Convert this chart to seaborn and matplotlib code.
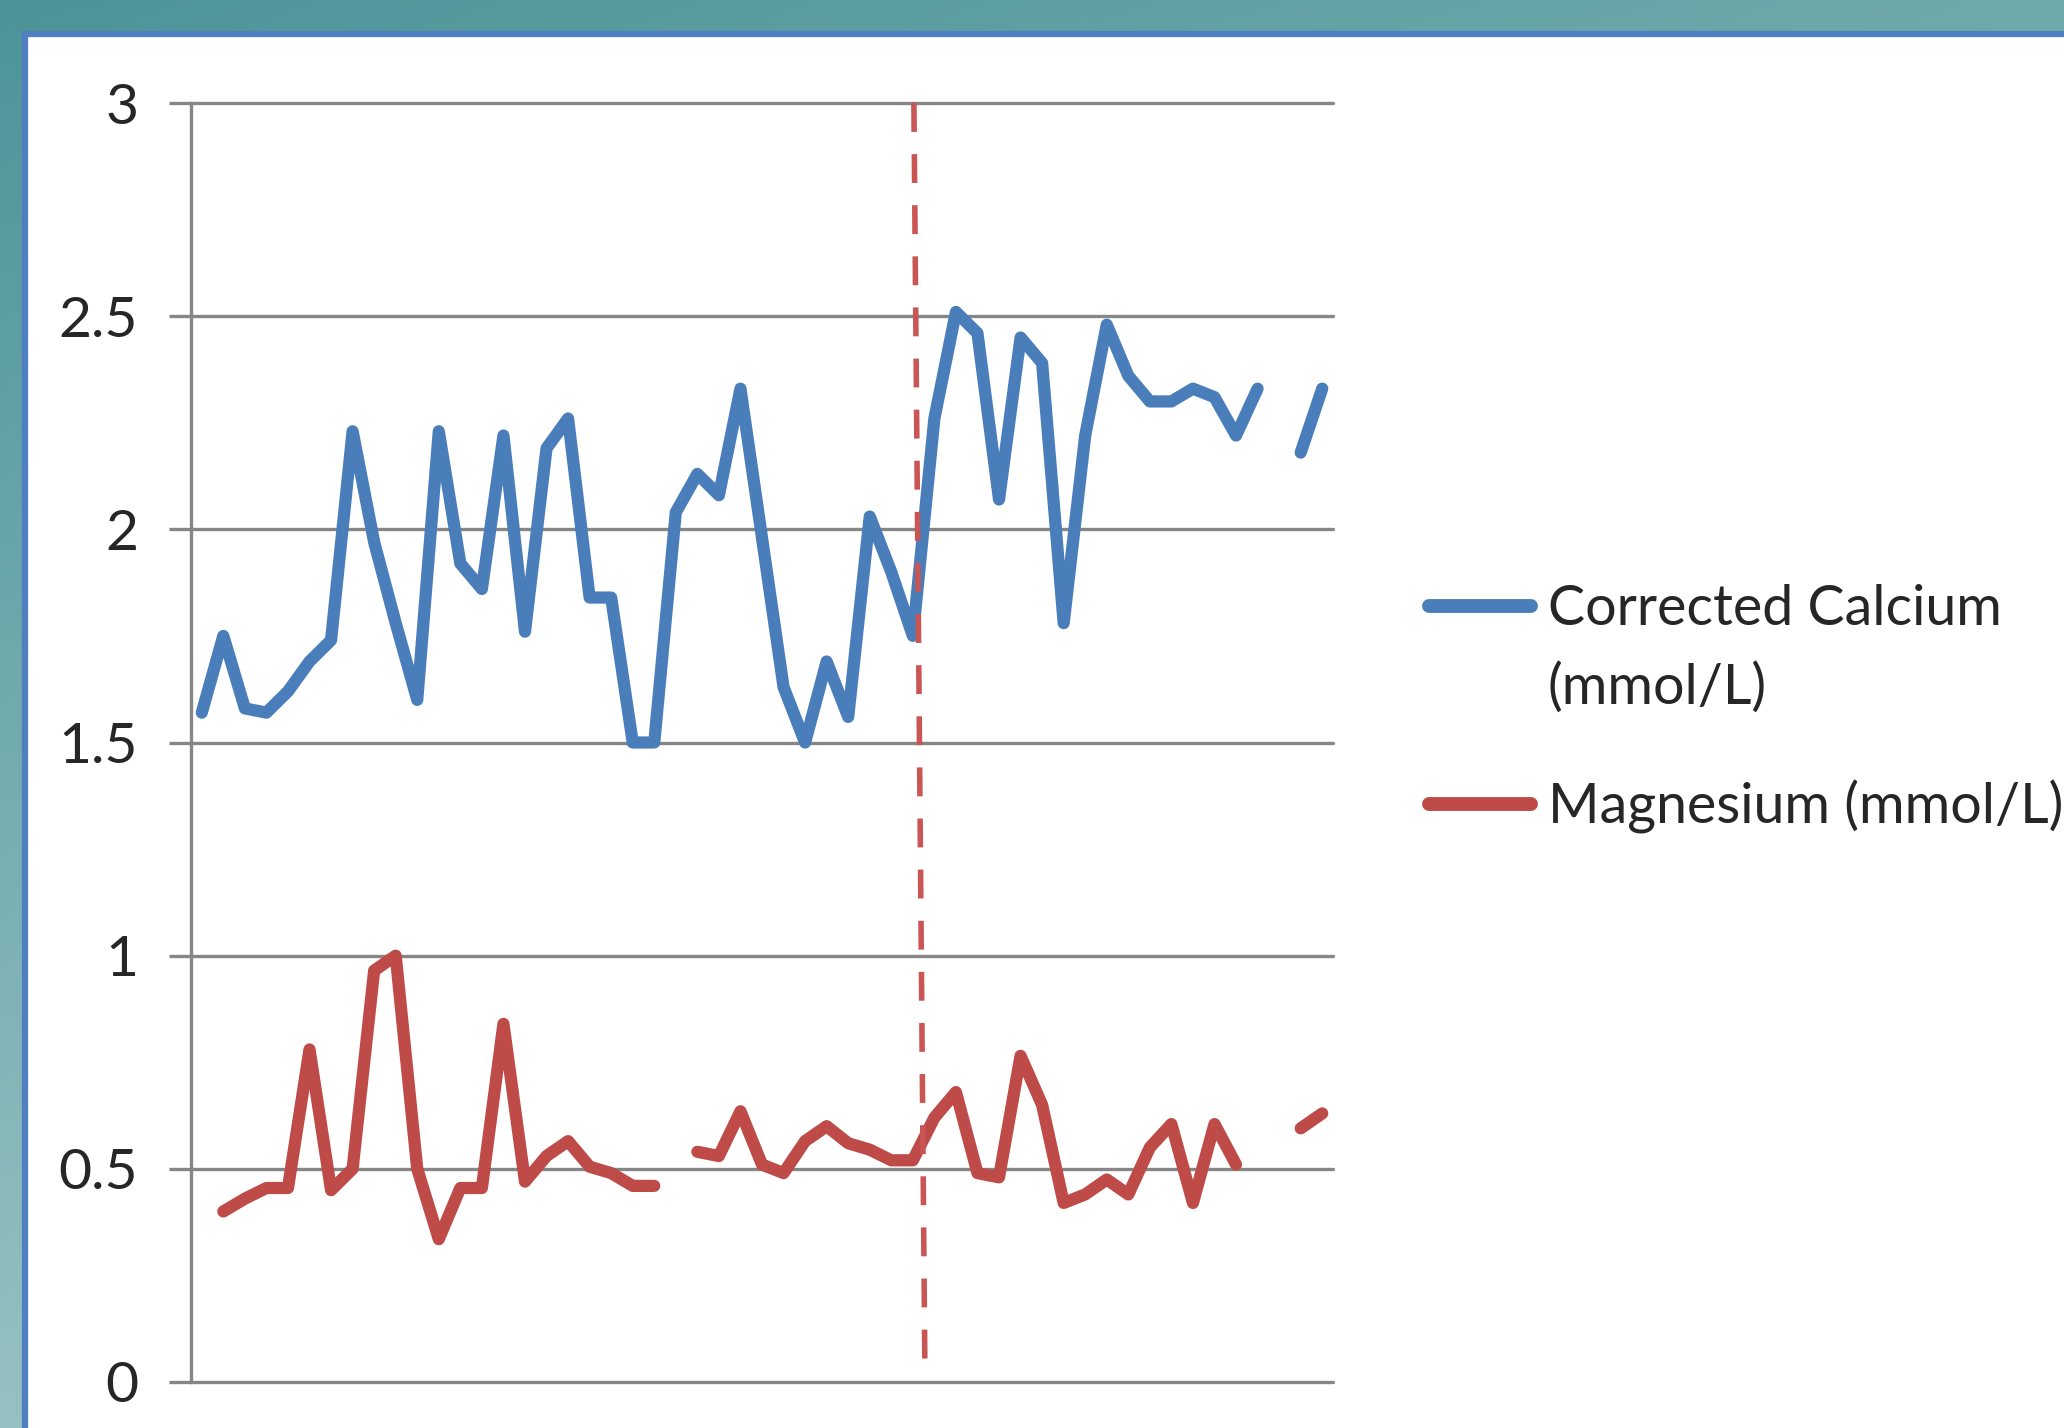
import numpy as np
import pandas as pd
import matplotlib
matplotlib.use("Agg")
import matplotlib.pyplot as plt
import seaborn as sns
from matplotlib.lines import Line2D
from matplotlib.patches import Rectangle

# ---------------- data ----------------
calcium = [1.57, 1.75, 1.58, 1.57, 1.62, 1.69, 1.74, 2.23, 1.97, 1.78,
           1.60, 2.23, 1.92, 1.86, 2.22, 1.76, 2.19, 2.26, 1.84, 1.84,
           1.50, 1.50, 2.04, 2.13, 2.08, 2.33, 1.98, 1.63, 1.50, 1.69,
           1.56, 2.03, 1.90, 1.75, 2.26, 2.51, 2.46, 2.07, 2.45, 2.39,
           1.78, 2.22, 2.48, 2.36, 2.30, 2.30, 2.33, 2.31, 2.22, 2.33,
           np.nan, 2.18, 2.33]
magnesium = [np.nan, 0.40, 0.43, 0.455, 0.455, 0.78, 0.45, 0.50, 0.965, 1.00,
             0.50, 0.335, 0.455, 0.455, 0.84, 0.47, 0.53, 0.565, 0.505, 0.49,
             0.46, 0.46, np.nan, 0.54, 0.53, 0.635, 0.51, 0.49, 0.565, 0.60,
             0.56, 0.545, 0.52, 0.52, 0.62, 0.68, 0.49, 0.48, 0.765, 0.65,
             0.42, 0.44, 0.475, 0.44, 0.55, 0.605, 0.42, 0.605, 0.51, np.nan,
             np.nan, 0.595, 0.63]
sample_index = list(range(len(calcium)))
series_names = ["Corrected Calcium (mmol/L)", "Magnesium (mmol/L)"]
legend_first_lines = ["Corrected Calcium", "Magnesium (mmol/L)"]
legend_second_line = "(mmol/L)"
y_ticks = [0, 0.5, 1, 1.5, 2, 2.5, 3]
y_tick_labels = ["0", "0.5", "1", "1.5", "2", "2.5", "3"]
event_line_x = [33.05, 33.56]   # dashed marker line, top -> bottom
event_line_y = [3.0, 0.03]

# ---------------- style ----------------
W, H, DPI = 2064, 1428, 100
PX = 72 / DPI  # points per pixel
BLUE = "#4A7EBB"
RED = "#BE4B48"
GRID = "#868686"
TEXT = "#262626"

sns.set_theme(style="white")
plt.rcParams["font.family"] = ["Lato", "DejaVu Sans"]
TICK_FS = 41
LEG_FS = 40
SERIES_LW = 8.8
HANDLE_LW = 10.0


def segment_ids(vals):
    seg, s, prev_nan = [], 0, True
    for v in vals:
        if np.isnan(v):
            seg.append(np.nan)
            prev_nan = True
        else:
            if prev_nan:
                s += 1
            seg.append(s)
            prev_nan = False
    return seg


frames = []
for name, vals in zip(series_names, [calcium, magnesium]):
    frames.append(pd.DataFrame({"idx": sample_index, "value": vals,
                                "series": name, "seg": segment_ids(vals)}))
df = pd.concat(frames, ignore_index=True).dropna()

fig = plt.figure(figsize=(W / DPI, H / DPI), dpi=DPI)

# background frame (teal gradient with white slide area)
bg = fig.add_axes([0, 0, 1, 1], zorder=-10)
tl = np.array([0x4C, 0x94, 0x98]) / 255
tr = np.array([0x70, 0xA9, 0xAC]) / 255
bl = np.array([0x96, 0xC1, 0xC3]) / 255
xx, yy = np.meshgrid(np.linspace(0, 1, 200), np.linspace(0, 1, 200))
img = tl[None, None, :] + (tr - tl)[None, None, :] * xx[..., None] + (bl - tl)[None, None, :] * yy[..., None]
bg.imshow(np.clip(img, 0, 1), extent=[0, 1, 0, 1], aspect="auto", origin="upper")
bg.add_patch(Rectangle((25 / W, -0.05), 1.2, 1.05 - 34 / H, facecolor="white",
                       edgecolor="#4F7FC0", lw=4.5, transform=bg.transAxes))
bg.set_xlim(0, 1)
bg.set_ylim(0, 1)
bg.axis("off")

ax = fig.add_axes([191 / W, 1 - 1382 / H, (1333 - 191) / W, (1382 - 103) / H])
ax.patch.set_alpha(0)

for name, color in zip(series_names, [BLUE, RED]):
    sns.lineplot(data=df[df["series"] == name], x="idx", y="value", units="seg",
                 estimator=None, color=color, linewidth=SERIES_LW, ax=ax, legend=False,
                 solid_joinstyle="round", solid_capstyle="round", zorder=3)

ax.plot(event_line_x, event_line_y, color="#C95555", linewidth=4.0,
        linestyle=(0, (5.2, 4.0)), dash_capstyle="butt", zorder=4)

ax.set_xlim(-0.5, len(sample_index) - 0.5)
ax.set_ylim(0, 3)
ax.set_yticks(y_ticks, y_tick_labels)
ax.set_xticks([])
ax.set_xlabel("")
ax.set_ylabel("")
ax.grid(axis="y", color=GRID, lw=2.4)
for sp in ["top", "right", "bottom"]:
    ax.spines[sp].set_visible(False)
ax.spines["left"].set_color(GRID)
ax.spines["left"].set_linewidth(2.4)
ax.tick_params(axis="y", direction="out", length=16, width=2.4, color=GRID,
               labelsize=TICK_FS, pad=22, labelcolor=TEXT, left=True)
for gl in ax.get_ygridlines():
    gl.set_clip_on(False)

handles = [Line2D([], [], color=BLUE, lw=HANDLE_LW, solid_capstyle="round"),
           Line2D([], [], color=RED, lw=HANDLE_LW, solid_capstyle="round")]
handle_len_pt = (116 - HANDLE_LW / PX) * PX
leg = fig.legend(handles, legend_first_lines, loc="upper left",
                 bbox_to_anchor=((1422 + HANDLE_LW / PX / 2) / W, 1 - 584 / H), frameon=False,
                 fontsize=LEG_FS, handlelength=handle_len_pt / LEG_FS,
                 handletextpad=(10 + HANDLE_LW / PX / 2) * PX / LEG_FS,
                 labelspacing=2.6, borderpad=0, borderaxespad=0)
for t in leg.get_texts():
    t.set_color(TEXT)

fig.canvas.draw()
bb = leg.get_texts()[0].get_window_extent()
cy = (bb.y0 + bb.y1) / 2 - 78
fig.text(bb.x0 / W, cy / H, legend_second_line, fontsize=LEG_FS, color=TEXT,
         va="center", ha="left")

fig.savefig("out.png", dpi=DPI)
